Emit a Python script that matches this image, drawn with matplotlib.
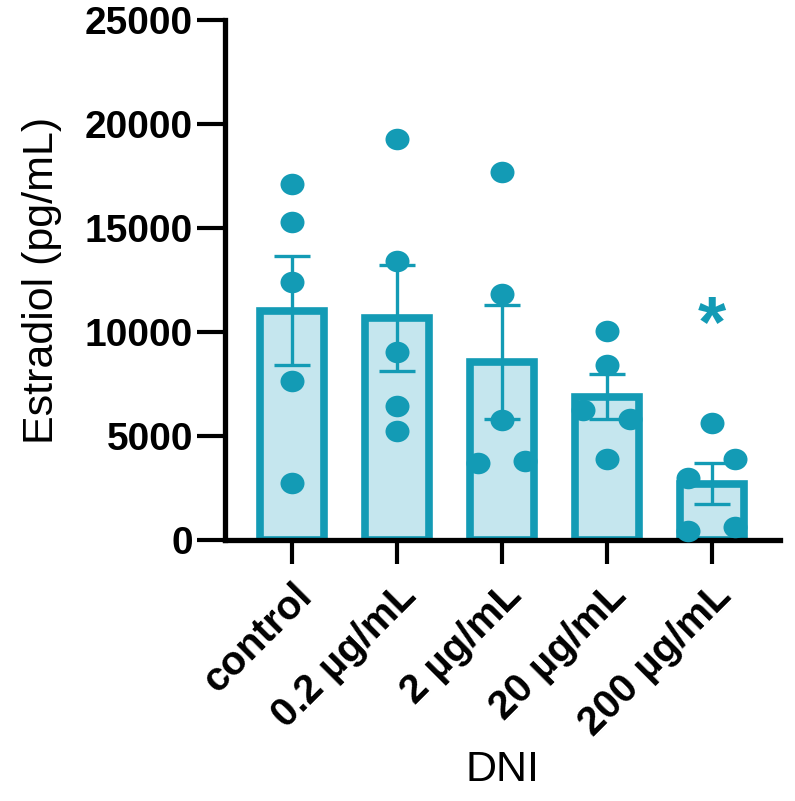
import matplotlib.pyplot as plt
import numpy as np
from matplotlib.markers import MarkerStyle
from matplotlib.transforms import Affine2D

plt.rcParams['font.family'] = ['Liberation Sans', 'DejaVu Sans']

# Data
groups = ['control', '0.2 µg/mL', '2 µg/mL', '20 µg/mL', '200 µg/mL']
points = [
    [17100, 15290, 12400, 7640, 2720],
    [19270, 13410, 9020, 6440, 5240],
    [17690, 11810, 5760, 3700, 3800],
    [10060, 8410, 6250, 5800, 3890],
    [5610, 3880, 2970, 450, 640],
]
jitter = [
    [0, 0, 0, 0, 0],
    [0, 0, 0, 0, 0],
    [0, 0, 0, -0.23, 0.22],
    [0, 0, -0.23, 0.22, 0],
    [0, 0.22, -0.23, -0.23, 0.22],
]
signif = ['', '', '', '', '*']

teal = '#139bb5'
light = '#c5e6ee'

means = np.array([np.mean(p) for p in points])
sems = np.array([np.std(p, ddof=1) / np.sqrt(len(p)) for p in points])
x = np.arange(len(groups))

fig = plt.figure(figsize=(7.95, 8.01), dpi=100)
ax = fig.add_axes([0.283, 0.326, 0.698, 0.649])

ax.bar(x, means, width=0.61, color=light, edgecolor=teal, linewidth=5.5, zorder=1)
ax.errorbar(x, means, yerr=sems, fmt='none', ecolor=teal, elinewidth=2.4,
            capsize=13, capthick=2.4, zorder=2)

# slightly wide dots, like the original
dot = MarkerStyle('o', transform=Affine2D().scale(1.08, 0.97))
for i, vals in enumerate(points):
    ax.plot(x[i] + np.array(jitter[i]), vals, linestyle='none', marker=dot,
            color=teal, markersize=16, markeredgewidth=0, zorder=3, clip_on=False)
    if signif[i]:
        ax.text(x[i], means[i] + sems[i] + 6550, signif[i], color=teal,
                fontsize=52, fontweight='bold', ha='center', va='center')

ax.set_xlim(-0.64, 4.65)
ax.set_ylim(0, 25000)
ax.set_yticks(np.arange(0, 25001, 5000))
ax.set_xticks(x)
ax.set_xticklabels(groups, rotation=45, ha='right', va='top',
                   rotation_mode='anchor', fontsize=29, fontweight='bold')
for lbl in ax.get_yticklabels():
    lbl.set_fontweight('bold')
    lbl.set_fontsize(28)

for s in ['top', 'right']:
    ax.spines[s].set_visible(False)
for s in ['left', 'bottom']:
    ax.spines[s].set_linewidth(3.8)
ax.tick_params(axis='y', length=20, width=3, pad=3)
ax.tick_params(axis='x', length=17, width=3, pad=9)

ax.set_ylabel('Estradiol (pg/mL)', fontsize=31)
ax.yaxis.set_label_coords(-0.294, 0.5)
ax.set_xlabel('DNI', fontsize=31)
ax.xaxis.set_label_coords(0.5, -0.405)

fig.savefig('out.png', dpi=100)
